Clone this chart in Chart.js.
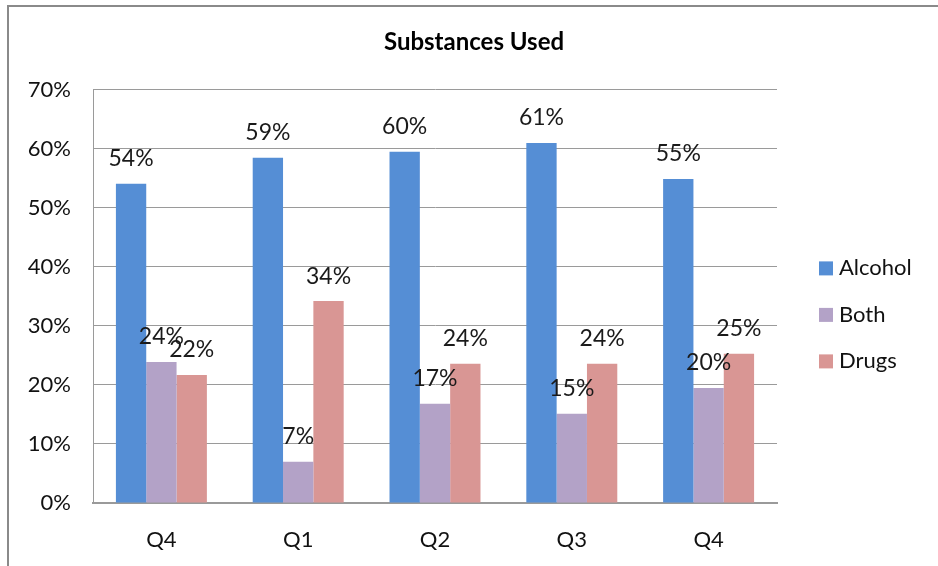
<!DOCTYPE html>
<html>
<head>
<meta charset="utf-8">
<script src="https://cdn.jsdelivr.net/npm/chart.js@4"></script>
<style>
  html, body { margin: 0; padding: 0; background: #fff; }
  #wrap { position: relative; width: 938px; height: 566px; }
</style>
</head>
<body>
<div id="wrap"><canvas id="myChart"></canvas></div>
<script>
// Data
const quarters = ['Q4', 'Q1', 'Q2', 'Q3', 'Q4'];
const alcohol = [54.1, 58.5, 59.5, 61.0, 54.9];
const both = [23.9, 7.0, 16.8, 15.1, 19.5];
const drugs = [21.7, 34.2, 23.6, 23.6, 25.3];
const yTicks = [0, 10, 20, 30, 40, 50, 60, 70];

const font = 'Lato, "Liberation Sans", sans-serif';

// Outer frame around the whole chart
const framePlugin = {
  id: 'frame',
  beforeDraw(chart) {
    const c = chart.ctx;
    c.save();
    c.fillStyle = '#fff';
    c.fillRect(0, 0, chart.width, chart.height);
    c.strokeStyle = '#8a8a8a';
    c.lineWidth = 2;
    c.strokeRect(8, 6, 960, 600);
    c.restore();
  }
};

// Value labels above the bars
const valueLabels = {
  id: 'valueLabels',
  afterDatasetsDraw(chart) {
    const c = chart.ctx;
    c.save();
    c.font = '23px ' + font;
    c.fillStyle = '#1a1a1a';
    c.textAlign = 'center';
    c.textBaseline = 'middle';
    chart.data.datasets.forEach((ds, i) => {
      chart.getDatasetMeta(i).data.forEach((bar, j) => {
        c.fillText(Math.round(ds.data[j]) + '%', bar.x, bar.y - 25);
      });
    });
    c.restore();
  }
};

// Legend on the right, Excel style (square box + label)
const sideLegend = {
  id: 'sideLegend',
  afterDraw(chart) {
    const c = chart.ctx;
    const area = chart.chartArea;
    const sets = chart.data.datasets;
    const step = 46.5;
    const x = area.right + 42;
    let y = (area.top + area.bottom) / 2 + 18.5 - step * (sets.length - 1) / 2;
    c.save();
    c.font = '22px ' + font;
    c.textBaseline = 'middle';
    sets.forEach(ds => {
      c.fillStyle = ds.backgroundColor;
      c.fillRect(x, y - 7, 14, 14);
      c.fillStyle = '#111';
      c.fillText(ds.label, x + 20, y);
      y += step;
    });
    c.restore();
  }
};

const ctx = document.getElementById('myChart');

const myChart = new Chart(ctx, {
  type: 'bar',
  data: {
    labels: quarters,
    datasets: [
      { label: 'Alcohol', data: alcohol, backgroundColor: '#558ed5' },
      { label: 'Both', data: both, backgroundColor: '#b3a2c7' },
      { label: 'Drugs', data: drugs, backgroundColor: '#d99694' }
    ]
  },
  options: {
    responsive: true,
    maintainAspectRatio: false,
    animation: false,
    layout: { padding: { left: 10, top: 28, right: 0, bottom: 0 } },
    datasets: {
      bar: { categoryPercentage: 0.665, barPercentage: 1 }
    },
    plugins: {
      title: {
        display: true,
        text: 'Substances Used',
        color: '#000',
        font: { family: font, size: 24, weight: 'bold' },
        padding: { top: 0, bottom: 33 }
      },
      legend: { display: false },
      tooltip: { enabled: false }
    },
    scales: {
      x: {
        afterFit(axis) { axis.height = 63; },
        grid: { display: false, drawTicks: false },
        border: { color: '#9a9a9a', width: 2 },
        ticks: {
          color: '#111',
          font: { family: font, size: 22 },
          padding: 24
        }
      },
      y: {
        min: 0,
        max: 70,
        afterBuildTicks(axis) {
          axis.ticks = yTicks.map(v => ({ value: v }));
        },
        afterFit(axis) { axis.width = 83; },
        grid: { color: '#9a9a9a', lineWidth: 1, drawTicks: false },
        border: { color: '#9a9a9a', width: 1 },
        ticks: {
          color: '#111',
          font: { family: font, size: 22 },
          padding: 22,
          callback: v => v + '%'
        }
      },
      // empty right-hand axis that reserves room for the legend
      legendSpace: {
        type: 'linear',
        position: 'right',
        min: 0,
        max: 70,
        afterFit(axis) { axis.width = 161; },
        grid: { display: false, drawTicks: false },
        border: { display: false },
        ticks: { display: false }
      }
    }
  },
  plugins: [framePlugin, valueLabels, sideLegend]
});
</script>
</body>
</html>
